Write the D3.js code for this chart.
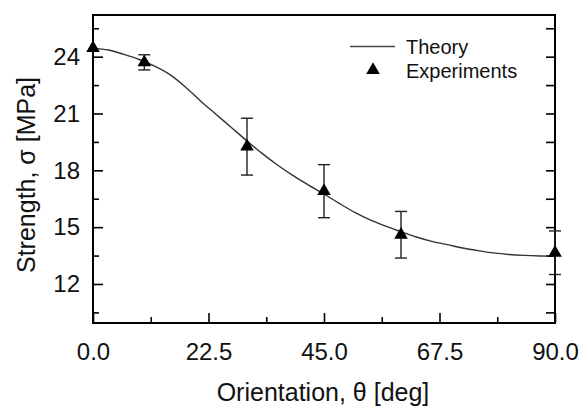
<!DOCTYPE html>
<html>
<head>
<meta charset="utf-8">
<script src="https://cdn.jsdelivr.net/npm/d3@7"></script>
<style>
  body { margin: 0; background: #fff; }
  svg { font-family: "Liberation Sans", Arial, sans-serif; }
  .axis path, .axis line { stroke: #000; }
</style>
</head>
<body>
<div id="chart"></div>
<script>
// experiments (mean +/- error) and theory curve
var expTheta = [0, 10, 30, 45, 60, 90];
var expStrength = [24.45, 23.7, 19.25, 16.9, 14.6, 13.65];
var expError = [0, 0.4, 1.5, 1.4, 1.23, 1.15];

var theoryTheta = [0, 3, 6, 9, 12, 15, 18, 21, 24, 27, 30, 33, 36, 39, 42, 45,
    48, 51, 54, 57, 60, 63, 66, 69, 72, 75, 78, 81, 84, 87, 90];
var theoryStrength = [24.45, 24.35, 24.12, 23.85, 23.5, 23.05, 22.4, 21.65, 20.95, 20.25, 19.55,
    18.88, 18.27, 17.72, 17.22, 16.75, 16.25, 15.78, 15.38, 15.05, 14.76, 14.48, 14.25,
    14.08, 13.9, 13.76, 13.64, 13.56, 13.51, 13.48, 13.47];

var xTicks = [0, 22.5, 45, 67.5, 90];
var xMinor = [11.25, 33.75, 56.25, 78.75];
var yTicks = [12, 15, 18, 21, 24];
var yMinor = [10.5, 13.5, 16.5, 19.5, 22.5, 25.5];

var svg = d3.select("#chart").append("svg"),
    svg_width = 581, svg_height = 406;
svg.attr("width", svg_width).attr("height", svg_height);

var margin = {top: 15, right: 26, bottom: 83, left: 93},
    width = svg_width - margin.left - margin.right,
    height = svg_height - margin.top - margin.bottom,
    g = svg.append("g").attr("transform", "translate(" + margin.left + "," + margin.top + ")");

var x = d3.scaleLinear().domain([0, 90]).range([0, width]);
var y = d3.scaleLinear().domain([9.94, 26.2]).range([height, 0]);

// frame
g.append("rect")
    .attr("width", width)
    .attr("height", height)
    .attr("fill", "none")
    .attr("stroke", "#000")
    .attr("stroke-width", 2);

// bottom axis
g.append("g")
    .attr("class", "axis")
    .attr("transform", "translate(0," + height + ")")
    .call(d3.axisBottom(x).tickValues(xTicks).tickFormat(d3.format(".1f")).tickSizeInner(-10).tickSizeOuter(0).tickPadding(20))
    .call(function(a) { a.select(".domain").remove(); })
    .call(function(a) { a.selectAll("line").attr("stroke-width", 1.6); })
    .selectAll("text").attr("font-size", 24).attr("fill", "#111");

g.append("g")
    .attr("class", "axis")
    .attr("transform", "translate(0," + height + ")")
    .call(d3.axisBottom(x).tickValues(xMinor).tickFormat("").tickSizeInner(-6).tickSizeOuter(0))
    .call(function(a) { a.select(".domain").remove(); })
    .selectAll("line").attr("stroke-width", 1.6);

// left axis
g.append("g")
    .attr("class", "axis")
    .call(d3.axisLeft(y).tickValues(yTicks).tickSizeInner(-10).tickSizeOuter(0).tickPadding(13))
    .call(function(a) { a.select(".domain").remove(); })
    .call(function(a) { a.selectAll("line").attr("stroke-width", 1.6); })
    .selectAll("text").attr("font-size", 24).attr("fill", "#111");

g.append("g")
    .attr("class", "axis")
    .call(d3.axisLeft(y).tickValues(yMinor).tickFormat("").tickSizeInner(-6).tickSizeOuter(0))
    .call(function(a) { a.select(".domain").remove(); })
    .selectAll("line").attr("stroke-width", 1.6);

// right axis, ticks only
g.append("g")
    .attr("class", "axis")
    .attr("transform", "translate(" + width + ",0)")
    .call(d3.axisRight(y).tickValues(yTicks.concat(yMinor)).tickFormat("").tickSizeInner(-9).tickSizeOuter(0))
    .call(function(a) { a.select(".domain").remove(); })
    .selectAll("line").attr("stroke-width", 1.6);

// theory curve
var line = d3.line()
    .x(function(d, i) { return x(theoryTheta[i]); })
    .y(function(d) { return y(d); })
    .curve(d3.curveMonotoneX);

g.append("path")
    .datum(theoryStrength)
    .attr("fill", "none")
    .attr("stroke", "#333")
    .attr("stroke-width", 1.4)
    .attr("d", line);

// error bars
var bars = g.append("g")
    .selectAll("g")
    .data(expTheta.map(function(t, i) { return {t: t, s: expStrength[i], e: expError[i]}; }))
    .enter().append("g")
    .filter(function(d) { return d.e > 0; })
    .attr("stroke", "#222")
    .attr("stroke-width", 1.4);

bars.append("line")
    .attr("x1", function(d) { return x(d.t); })
    .attr("x2", function(d) { return x(d.t); })
    .attr("y1", function(d) { return y(d.s + d.e); })
    .attr("y2", function(d) { return y(d.s - d.e); });

[1, -1].forEach(function(sgn) {
    bars.append("line")
        .attr("x1", function(d) { return x(d.t) - 6; })
        .attr("x2", function(d) { return x(d.t) + 6; })
        .attr("y1", function(d) { return y(d.s + sgn * d.e); })
        .attr("y2", function(d) { return y(d.s + sgn * d.e); });
});

// triangles
var tri = d3.symbol().type(d3.symbolTriangle).size(80);

g.append("g")
    .selectAll("path")
    .data(expTheta)
    .enter().append("path")
    .attr("d", tri)
    .attr("transform", function(d, i) { return "translate(" + x(d) + "," + y(expStrength[i]) + ")"; })
    .attr("fill", "#000");

// legend
var legend = svg.append("g").attr("font-size", 20).attr("fill", "#111");

legend.append("line")
    .attr("x1", 350).attr("x2", 395)
    .attr("y1", 46.5).attr("y2", 46.5)
    .attr("stroke", "#444")
    .attr("stroke-width", 1.4);

legend.append("text")
    .attr("x", 406).attr("y", 53.5)
    .text("Theory");

legend.append("path")
    .attr("d", tri)
    .attr("transform", "translate(373,70)")
    .attr("fill", "#000");

legend.append("text")
    .attr("x", 406).attr("y", 77.5)
    .text("Experiments");

// axis titles
svg.append("text")
    .attr("x", 323)
    .attr("y", 401)
    .attr("text-anchor", "middle")
    .attr("font-size", 25)
    .attr("fill", "#111")
    .text("Orientation, \u03b8 [deg]");

svg.append("text")
    .attr("transform", "translate(35,175) rotate(-90)")
    .attr("text-anchor", "middle")
    .attr("font-size", 25)
    .attr("fill", "#111")
    .text("Strength, \u03c3 [MPa]");
</script>
</body>
</html>
